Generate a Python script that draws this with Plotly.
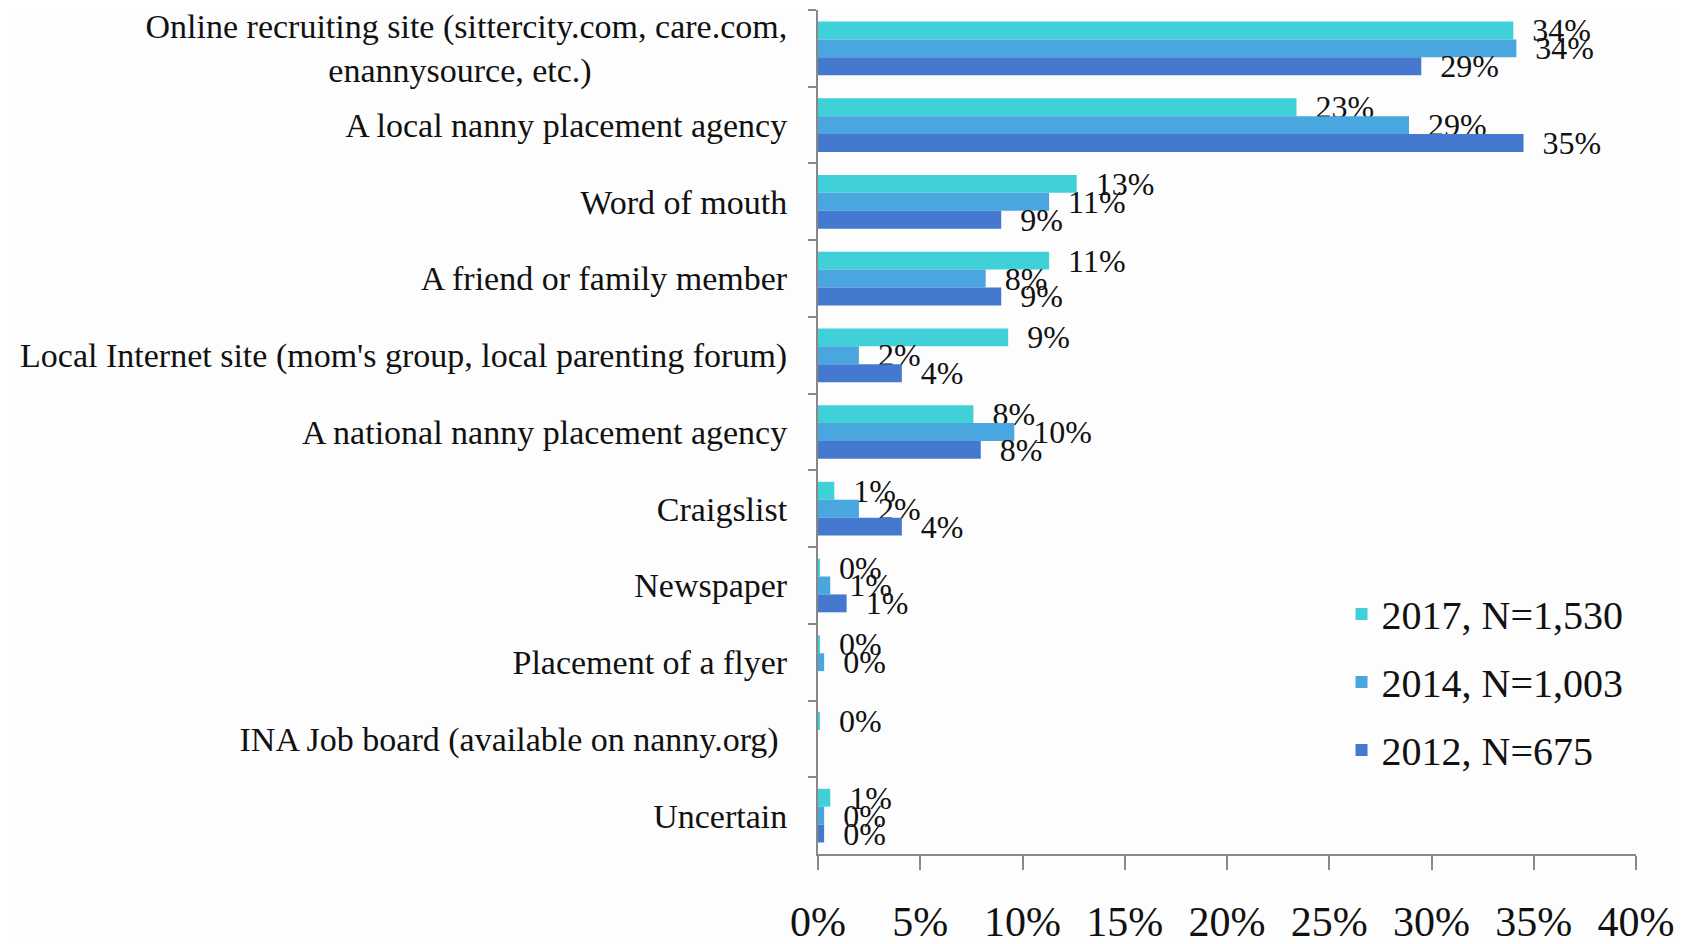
import plotly.graph_objects as go

NB = "\u00a0"
categories = [
    "Online recruiting site (sittercity.com, care.com,<br>enannysource, etc.)" + NB * 23,
    "A local nanny placement agency",
    "Word of mouth",
    "A friend or family member",
    "Local Internet site (mom's group, local parenting forum)",
    "A national nanny placement agency",
    "Craigslist",
    "Newspaper",
    "Placement of a flyer",
    "INA Job board (available on nanny.org)" + NB,
    "Uncertain",
]

series_names = ["2017, N=1,530", "2014, N=1,003", "2012, N=675"]

values_2017 = [0.340, 0.234, 0.1265, 0.113, 0.093, 0.076, 0.008, 0.001, 0.001, 0.001, 0.006]
values_2014 = [0.3415, 0.289, 0.113, 0.082, 0.020, 0.096, 0.020, 0.006, 0.003, None, 0.003]
values_2012 = [0.295, 0.345, 0.0896, 0.0896, 0.041, 0.0796, 0.041, 0.014, None, None, 0.003]

labels_2017 = ["34%", "23%", "13%", "11%", "9%", "8%", "1%", "0%", "0%", "0%", "1%"]
labels_2014 = ["34%", "29%", "11%", "8%", "2%", "10%", "2%", "1%", "0%", "", "0%"]
labels_2012 = ["29%", "35%", "9%", "9%", "4%", "8%", "4%", "1%", "", "", "0%"]

colors = ["#3fd0d8", "#4aa6de", "#4579cf"]

FONT = "Liberation Serif"

fig = go.Figure()
for i, (name, vals, labs, col) in enumerate(zip(series_names,
                                 [values_2017, values_2014, values_2012],
                                 [labels_2017, labels_2014, labels_2012],
                                 colors)):
    fig.add_trace(go.Bar(
        y=categories, x=vals, name=name, orientation="h", legendgroup=f"g{i}",
        marker=dict(color=col, line=dict(width=0)),
        text=[(NB * 2 + t) if t else "" for t in labs],
        textposition="outside", constraintext="none",
        textfont=dict(family=FONT, size=32, color="#111"),
        cliponaxis=False,
    ))

fig.update_layout(
    width=1688, height=944,
    barmode="group", bargap=0.3, bargroupgap=0,
    paper_bgcolor="#fdfdfd", plot_bgcolor="#fdfdfd",
    margin=dict(l=810, r=60, t=2, b=98),
    font=dict(family=FONT, color="#111"),
    legend=dict(x=0.64, y=0.323, xanchor="left", yanchor="top",
                font=dict(family=FONT, size=40, color="#111"),
                bgcolor="rgba(0,0,0,0)", tracegroupgap=13),
    showlegend=True,
)
fig.update_yaxes(autorange="reversed", showline=True, linecolor="#888", linewidth=2,
                 ticks="outside", tickson="boundaries", ticklen=8, tickcolor="#888", tickwidth=2,
                 tickfont=dict(family=FONT, size=34, color="#111"), ticklabelstandoff=22,
                 showgrid=False, zeroline=False, automargin=False)
fig.update_xaxes(range=[0, 0.40], dtick=0.05, tickformat=".0%", showline=True, linecolor="#888",
                 linewidth=2, ticks="outside", ticklen=14, tickcolor="#888", tickwidth=2,
                 tickfont=dict(family=FONT, size=42, color="#111"), ticklabelstandoff=16,
                 showgrid=False, zeroline=False, automargin=False)

fig.write_html("out.html")
